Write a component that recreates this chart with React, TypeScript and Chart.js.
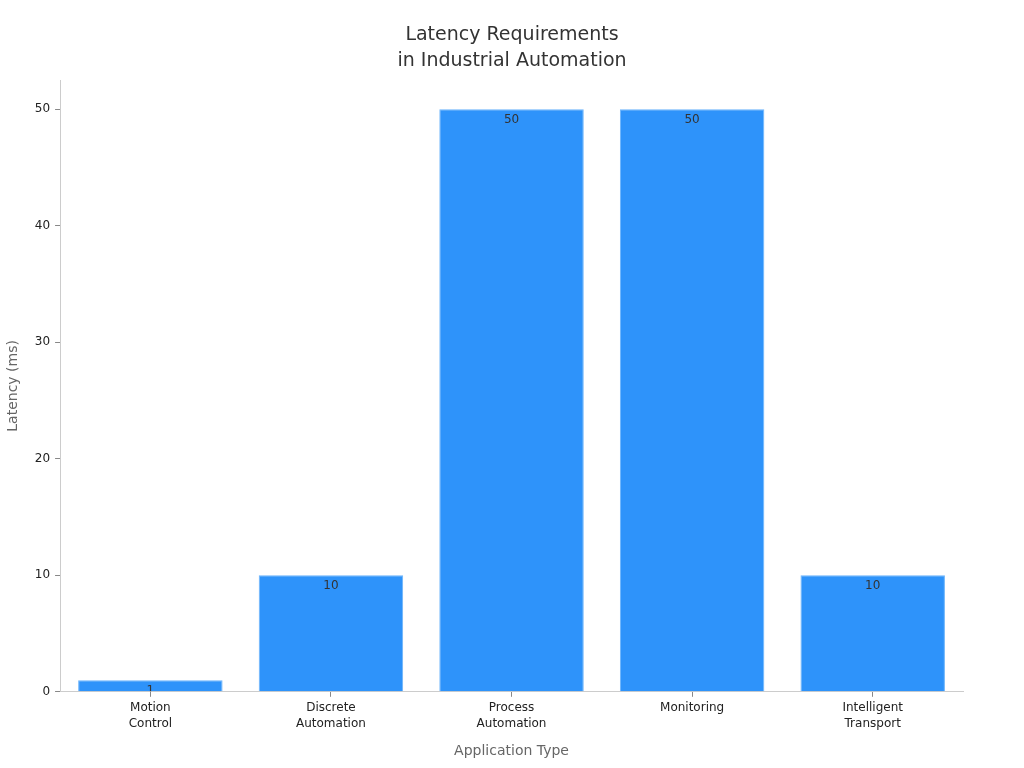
import React, { useEffect, useRef } from 'react';
import { Chart, registerables, Plugin } from 'chart.js';

Chart.register(...registerables);

const chartTitle = ['Latency Requirements', 'in Industrial Automation'];
const categories = [['Motion', 'Control'], ['Discrete', 'Automation'], ['Process', 'Automation'], ['Monitoring'], ['Intelligent', 'Transport']];
const latencyMs = [1, 10, 50, 50, 10];
const yTicks = [0, 10, 20, 30, 40, 50];

const FONT = "'DejaVu Sans', sans-serif";

// draws the value near the top of each bar, clipped to the bar
const barLabels: Plugin<'bar'> = {
  id: 'barLabels',
  afterDatasetsDraw(chart) {
    const ctx = chart.ctx;
    const meta = chart.getDatasetMeta(0);
    meta.data.forEach((el: any, i) => {
      const { x, y, base, width } = el.getProps(['x', 'y', 'base', 'width'], true);
      ctx.save();
      ctx.beginPath();
      ctx.rect(x - width / 2, y, width, base - y);
      ctx.clip();
      ctx.fillStyle = '#333333';
      ctx.font = `12px ${FONT}`;
      ctx.textAlign = 'center';
      ctx.textBaseline = 'middle';
      ctx.fillText(String(latencyMs[i]), x, y + 11);
      ctx.restore();
    });
  },
};

// title centred on the whole canvas rather than the padded box
const centredTitle: Plugin<'bar'> = {
  id: 'centredTitle',
  afterDraw(chart) {
    const ctx = chart.ctx;
    ctx.save();
    ctx.fillStyle = '#333333';
    ctx.font = `19px ${FONT}`;
    ctx.textAlign = 'center';
    ctx.textBaseline = 'middle';
    chartTitle.forEach((line, i) => ctx.fillText(line, chart.width / 2, 35 + i * 26));
    ctx.restore();
  },
};

const App: React.FC = () => {
  const chartRef = useRef<HTMLCanvasElement>(null);
  const chartInstance = useRef<Chart | null>(null);

  useEffect(() => {
    if (!chartRef.current) return;
    if (chartInstance.current) chartInstance.current.destroy();
    const ctx = chartRef.current.getContext('2d');
    if (!ctx) return;

    chartInstance.current = new Chart(ctx, {
      type: 'bar',
      data: {
        labels: categories,
        datasets: [
          {
            label: 'Latency (ms)',
            data: latencyMs,
            backgroundColor: '#2E93FA',
            borderColor: '#6BB4FB',
            borderWidth: 1,
            barPercentage: 0.8,
            categoryPercentage: 1,
          },
        ],
      },
      options: {
        animation: false,
        responsive: true,
        maintainAspectRatio: false,
        layout: { padding: { left: 1, right: 61, top: 80, bottom: 4 } },
        plugins: {
          legend: { display: false },
          tooltip: { enabled: false },
          title: { display: false },
        },
        scales: {
          x: {
            grid: {
              display: true,
              offset: false,
              drawOnChartArea: false,
              drawTicks: true,
              tickLength: 5,
              color: '#cccccc',
              tickColor: '#888888',
            },
            border: { color: '#cccccc' },
            ticks: { color: '#222222', font: { family: FONT, size: 12, lineHeight: 1.35 }, padding: 3 },
            title: {
              display: true,
              text: 'Application Type',
              color: '#666666',
              font: { family: FONT, size: 14 },
              padding: { top: 8 },
            },
          },
          y: {
            min: 0,
            max: 52.5,
            afterBuildTicks: (axis) => {
              axis.ticks = yTicks.map((v) => ({ value: v }));
            },
            grid: {
              display: true,
              drawOnChartArea: false,
              drawTicks: true,
              tickLength: 5,
              color: '#cccccc',
              tickColor: '#888888',
            },
            border: { color: '#cccccc' },
            ticks: { color: '#222222', font: { family: FONT, size: 12 }, padding: 5 },
            title: {
              display: true,
              text: 'Latency (ms)',
              color: '#666666',
              font: { family: FONT, size: 14 },
              padding: { top: 4, bottom: 8 },
            },
          },
        },
      },
      plugins: [barLabels, centredTitle],
    });

    return () => {
      if (chartInstance.current) {
        chartInstance.current.destroy();
        chartInstance.current = null;
      }
    };
  }, []);

  return (
    <div style={{ position: 'fixed', left: 0, top: 0, width: 1024, height: 768, background: '#ffffff' }}>
      <canvas ref={chartRef}></canvas>
    </div>
  );
};

export default App;
